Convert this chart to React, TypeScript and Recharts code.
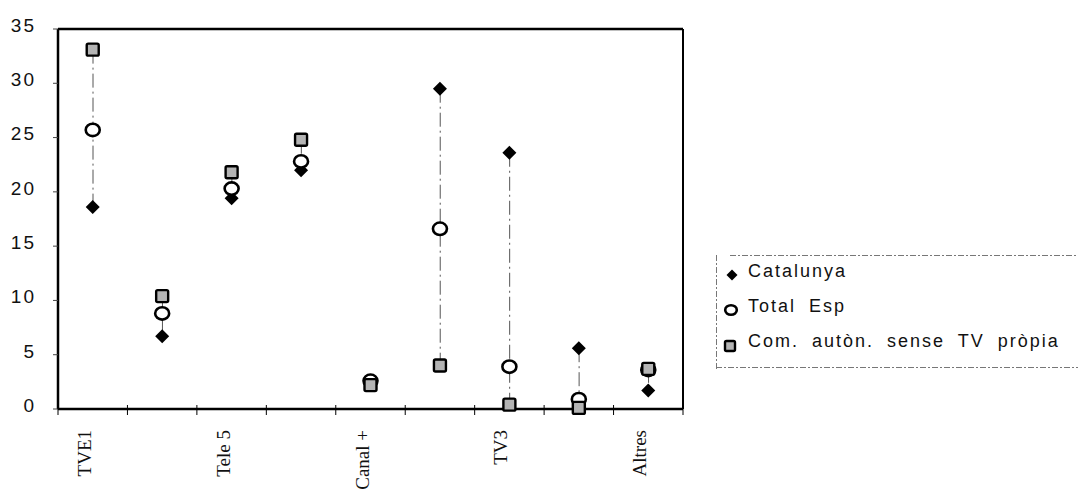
import { ComposedChart, Bar, Line, XAxis, YAxis, Legend } from "recharts";

const categories = ["TVE1", "La 2", "Tele 5", "Antena 3", "Canal +", "Autonòmiques", "TV3", "Canal 33", "Altres"];
const catalunya = [18.6, 6.7, 19.4, 22.0, 2.3, 29.5, 23.6, 5.6, 1.7];
const totalEsp = [25.7, 8.8, 20.3, 22.8, 2.6, 16.6, 3.9, 0.9, 3.6];
const comAuton = [33.1, 10.4, 21.8, 24.8, 2.2, 4.0, 0.4, 0.1, 3.7];
const yTicks = [0, 5, 10, 15, 20, 25, 30, 35];

const SERIES = [
  { key: "catalunya", name: "Catalunya" },
  { key: "totalEsp", name: "Total Esp" },
  { key: "comAuton", name: "Com. autòn. sense TV pròpia" },
];

const data = categories.map((name, i) => {
  const vals = [catalunya[i], totalEsp[i], comAuton[i]];
  return {
    name,
    catalunya: catalunya[i],
    totalEsp: totalEsp[i],
    comAuton: comAuton[i],
    range: [Math.min(...vals), Math.max(...vals)],
  };
});

const SANS = "Arial, 'Liberation Sans', sans-serif";
const SERIF = "'Times New Roman', 'Liberation Serif', serif";

function Diamond({ cx, cy, s = 7 }: any) {
  if (cx == null || cy == null) return null;
  return <path d={`M${cx},${cy - s}L${cx + s},${cy}L${cx},${cy + s}L${cx - s},${cy}Z`} fill="#000" />;
}
function Ring({ cx, cy, rx = 7, ry = 6.2 }: any) {
  if (cx == null || cy == null) return null;
  return <ellipse cx={cx} cy={cy} rx={rx} ry={ry} fill="#fff" stroke="#000" strokeWidth={2.6} />;
}
function Square({ cx, cy, s = 6 }: any) {
  if (cx == null || cy == null) return null;
  return <rect x={cx - s} y={cy - s} width={s * 2} height={s * 2} rx={1.5} fill="#b4b4b4" stroke="#000" strokeWidth={2.4} />;
}

function RangeLine({ x, y, width, height }: any) {
  if (x == null) return null;
  const cx = x + width / 2;
  return <line x1={cx} x2={cx} y1={y} y2={y + height} stroke="#555" strokeWidth={1} strokeDasharray="14 4 2 4" />;
}

function XTick({ x, y, payload, index }: any) {
  const half = payload?.offset || 34.8;
  return (
    <g>
      <line x1={x - half} x2={x - half} y1={y - 12} y2={y - 2} stroke="#000" strokeWidth={1} />
      {index === categories.length - 1 && (
        <line x1={x + half} x2={x + half} y1={y - 12} y2={y - 2} stroke="#000" strokeWidth={1} />
      )}
      {index % 2 === 0 && (
        <text
          x={x - 2}
          y={y + 13}
          transform={`rotate(-90 ${x - 2} ${y + 13})`}
          textAnchor="end"
          fontFamily={SERIF}
          fontSize={19}
          fill="#111"
        >
          {payload.value}
        </text>
      )}
    </g>
  );
}

function YTick({ x, y, payload }: any) {
  return (
    <text x={x} y={y - 4} dy="0.36em" textAnchor="end" fontFamily={SANS} fontSize={19} letterSpacing={2} fill="#111">
      {payload.value}
    </text>
  );
}

function LegendBox() {
  const marks = [
    <Diamond cx={16} cy={20} s={5.5} />,
    <Ring cx={15} cy={55} rx={5.8} ry={4.8} />,
    <Square cx={14} cy={91} s={5} />,
  ];
  return (
    <svg width={363} height={114} style={{ display: "block" }}>
      <line x1={14} x2={363} y1={0.5} y2={0.5} stroke="#777" strokeDasharray="6 2 2 2" />
      <line x1={0.5} x2={0.5} y1={0} y2={114} stroke="#777" strokeDasharray="6 2 2 2" />
      <line x1={0} x2={363} y1={112.5} y2={112.5} stroke="#777" strokeDasharray="6 2 2 2" />
      {SERIES.map((s, i) => (
        <g key={s.key}>
          {marks[i]}
          <text x={32} y={22 + i * 35} fontFamily={SANS} fontSize={18} letterSpacing={2} wordSpacing={6} fill="#111">
            {s.name}
          </text>
        </g>
      ))}
    </svg>
  );
}

export default function App() {
  return (
    <div style={{ position: "absolute", left: 0, top: 0, width: 1078, height: 493, background: "#fff" }}>
      <ComposedChart width={1078} height={493} data={data} margin={{ top: 28, right: 394, bottom: 0, left: 0 }}>
        <XAxis
          dataKey="name"
          interval={0}
          height={84}
          tickSize={6}
          tickMargin={2}
          tickLine={false}
          axisLine={{ stroke: "#000", strokeWidth: 2.5 }}
          tick={<XTick />}
        />
        <XAxis xAxisId="top" dataKey="name" orientation="top" height={1} tick={false} tickLine={false} axisLine={{ stroke: "#000", strokeWidth: 2.5 }} />
        <YAxis
          domain={[0, 35]}
          ticks={yTicks}
          width={58}
          tickSize={5}
          tickMargin={17}
          tickLine={{ stroke: "#444" }}
          axisLine={{ stroke: "#000", strokeWidth: 2.5 }}
          tick={<YTick />}
        />
        <YAxis yAxisId="right" orientation="right" domain={[0, 35]} width={1} tick={false} tickLine={false} axisLine={{ stroke: "#000", strokeWidth: 2 }} />
        <Line xAxisId="top" yAxisId="right" dataKey="catalunya" stroke="none" dot={false} activeDot={false} legendType="none" isAnimationActive={false} />
        <Bar dataKey="range" barSize={2} shape={<RangeLine />} isAnimationActive={false} legendType="none" />
        <Line dataKey="catalunya" name="Catalunya" stroke="none" dot={<Diamond />} activeDot={false} isAnimationActive={false} />
        <Line dataKey="totalEsp" name="Total Esp" stroke="none" dot={<Ring />} activeDot={false} isAnimationActive={false} />
        <Line dataKey="comAuton" name="Com. autòn. sense TV pròpia" stroke="none" dot={<Square />} activeDot={false} isAnimationActive={false} />
        <Legend
          layout="vertical"
          align="center"
          verticalAlign="middle"
          content={<LegendBox />}
          wrapperStyle={{ position: "absolute", left: 716, top: 255, width: 363 }}
        />
      </ComposedChart>
    </div>
  );
}
